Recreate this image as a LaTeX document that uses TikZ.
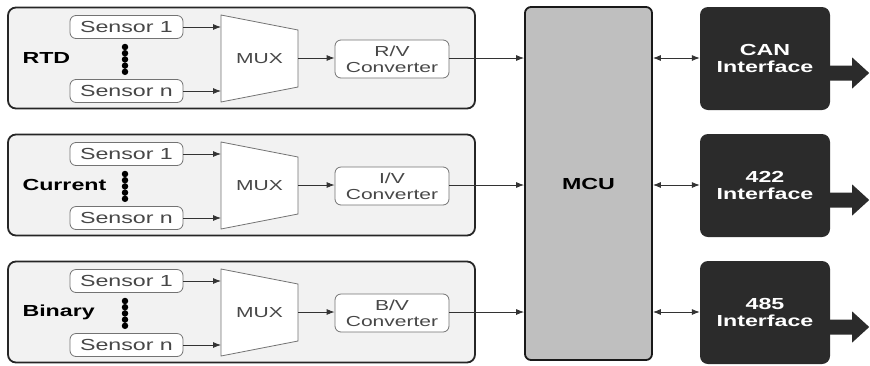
\documentclass[tikz,border=0pt]{standalone}
\usepackage{fontspec}
\setmainfont[FakeStretch=1.45]{Liberation Sans}
\usetikzlibrary{arrows.meta}
\begin{document}
\begin{tikzpicture}[x=1pt,y=-1pt,
  grp/.style={draw=black!85,line width=1.8pt,fill=black!5,rounded corners=8pt,
    minimum width=467pt,minimum height=101pt,inner sep=0pt},
  sens/.style={draw=black!55,line width=0.8pt,fill=white,rounded corners=6pt,
    minimum width=113pt,minimum height=23pt,inner sep=0pt,
    font=\fontsize{16}{18}\selectfont,text=black!72},
  conv/.style={draw=black!55,line width=0.8pt,fill=white,rounded corners=6pt,
    minimum width=114pt,minimum height=38pt,inner sep=0pt,align=center,
    font=\fontsize{14.5}{16}\selectfont,text=black!72},
  muxshape/.style={draw=black!55,line width=0.8pt,fill=white},
  muxlab/.style={font=\fontsize{14.5}{16}\selectfont,text=black!72},
  lab/.style={anchor=west,font=\bfseries\fontsize{16}{18}\selectfont,text=black},
  mcubox/.style={draw=black!90,line width=1.8pt,fill=black!25,rounded corners=6pt,
    minimum width=127pt,minimum height=353pt,inner sep=0pt,
    font=\bfseries\fontsize{16}{18}\selectfont},
  iface/.style={fill=black!83,rounded corners=8pt,minimum width=130pt,
    minimum height=103pt,inner sep=0pt,align=center,text=white,
    font=\bfseries\fontsize{16}{17}\selectfont},
  arr/.style={-{Latex[length=8pt,width=6pt]},line width=0.8pt,draw=black!80},
  darr/.style={{Latex[length=8pt,width=6pt]}-{Latex[length=8pt,width=6pt]},line width=0.8pt,draw=black!80},
  fatarrow/.style={fill=black!83},
  dot/.style={fill=black,circle,inner sep=0pt,minimum size=6.5pt}
]
\useasboundingbox[fill=white] (0,0) rectangle (870,365);

\node[mcubox] (mcu) at (588.5,183.5) {MCU};

\foreach \i/\dy/\lbl/\cv/\itf in {1/0/RTD/{R/V}/CAN, 2/127/Current/{I/V}/422, 3/254/Binary/{B/V}/485}{
  \node[grp] (g\i) at (241.5,58+\dy) {};
  \node[lab] (l\i) at (19,58+\dy) {\lbl};
  \node[sens] (sa\i) at (126.5,27+\dy) {Sensor 1};
  \node[sens] (sn\i) at (126.5,91+\dy) {Sensor n};
  \foreach \k in {0,1,2,3,4}{
    \node[dot] (d\i\k) at (125,47+6.2*\k+\dy) {};
  }
  \draw[muxshape] (221,15+\dy) -- (298,30+\dy) -- (298,87+\dy) -- (221,102+\dy) -- cycle;
  \node[muxlab] (m\i) at (259.5,58.5+\dy) {MUX};
  \coordinate (mia\i) at (221,27+\dy);
  \coordinate (min\i) at (221,91+\dy);
  \coordinate (mo\i) at (298,58+\dy);
  \node[conv] (c\i) at (392,59+\dy) {\cv\\Converter};
  \node[iface] (f\i) at (765,58.5+\dy) {\itf\\Interface};
  \draw[arr] (sa\i.east) -- (mia\i);
  \draw[arr] (sn\i.east) -- (min\i);
  \draw[arr] (mo\i) -- (c\i.west |- mo\i);
  \draw[arr] (c\i.east |- mo\i) -- (mcu.west |- mo\i);
  \draw[darr] (mcu.east |- mo\i) -- (f\i.west |- mo\i);
  \fill[fatarrow] ([yshift=-7.5pt]f\i.east |- mo\i) -- ++(22,0) -- ++(0,-8)
     -- ++(17,15.5) -- ++(-17,15.5) -- ++(0,-8) -- ++(-22,0) -- cycle;
}
\end{tikzpicture}
\end{document}
